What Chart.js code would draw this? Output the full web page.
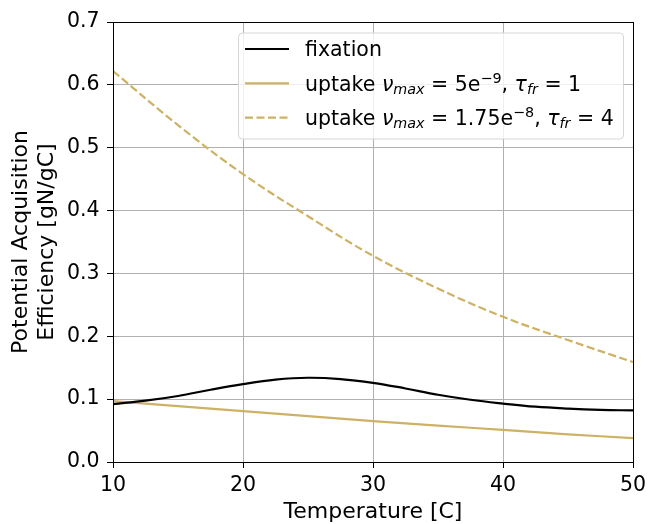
<!DOCTYPE html>
<html>
<head>
<meta charset="utf-8">
<script src="https://cdn.jsdelivr.net/npm/chart.js@4.4.0/dist/chart.umd.min.js"></script>
<style>
  html, body { margin: 0; padding: 0; background: #fff; }
</style>
</head>
<body>
<canvas id="chart" width="649" height="524"></canvas>
<script>
  // ── Data ─────────────────────────────────────────────
  const tempFix = [10, 12.5, 15, 17.5, 20, 22.5, 25, 27.5, 30, 32.5, 35, 37.5, 40, 42.5, 45, 47.5, 50];
  const fixation = [0.092, 0.0975, 0.105, 0.115, 0.124, 0.131, 0.134, 0.132, 0.126, 0.117, 0.107, 0.099, 0.093, 0.088, 0.085, 0.083, 0.082];

  const tempUptake = [10, 15, 20, 25, 30, 35, 40, 45, 50];
  const uptakeLow = [0.097, 0.089, 0.081, 0.073, 0.065, 0.058, 0.051, 0.044, 0.038];
  const uptakeHigh = [0.622, 0.536, 0.458, 0.391, 0.328, 0.276, 0.231, 0.194, 0.159];

  const xTicks = [10, 20, 30, 40, 50];
  const yTicks = [0, 0.1, 0.2, 0.3, 0.4, 0.5, 0.6, 0.7];

  // legend labels as rich text pieces (it = italic, sub / sup)
  const legendFix = [{ t: 'fixation' }];
  const legendLow = [
    { t: 'uptake ' }, { t: 'ν', it: true }, { t: 'max', it: true, sub: true },
    { t: ' = 5e' }, { t: '−9', sup: true }, { t: ', ' },
    { t: 'τ', it: true }, { t: 'fr', it: true, sub: true }, { t: ' = 1' }
  ];
  const legendHigh = [
    { t: 'uptake ' }, { t: 'ν', it: true }, { t: 'max', it: true, sub: true },
    { t: ' = 1.75e' }, { t: '−8', sup: true }, { t: ', ' },
    { t: 'τ', it: true }, { t: 'fr', it: true, sub: true }, { t: ' = 4' }
  ];

  const FONT = "'DejaVu Sans', sans-serif";
  const GOLD = '#cdb164';

  function pts(xs, ys) {
    return xs.map(function (x, i) { return { x: x, y: ys[i] }; });
  }

  function drawRich(ctx, x, y, parts, size) {
    parts.forEach(function (p) {
      const s = (p.sub || p.sup) ? size * 0.7 : size;
      ctx.font = (p.it ? 'italic ' : '') + s + 'px ' + FONT;
      const dy = p.sub ? size * 0.17 : (p.sup ? -size * 0.38 : 0);
      ctx.fillText(p.t, x, y + dy);
      x += ctx.measureText(p.t).width;
    });
  }

  // spines on top/right + matplotlib-like legend box
  const framePlugin = {
    id: 'frame',
    afterDatasetsDraw: function (chart) {
      const ctx = chart.ctx;
      const a = chart.chartArea;
      ctx.save();
      ctx.strokeStyle = '#000';
      ctx.lineWidth = 1;
      ctx.strokeRect(a.left + 0.5, a.top + 0.5, a.right - a.left, a.bottom - a.top);

      // legend
      const bx = 238, by = 32.5, bw = 385, bh = 106;
      ctx.beginPath();
      ctx.roundRect(bx + 0.5, by + 0.5, bw, bh, 4);
      ctx.fillStyle = 'rgba(255,255,255,0.8)';
      ctx.fill();
      ctx.strokeStyle = '#d6d6d6';
      ctx.stroke();

      const rows = [
        { y: 49, color: '#000', dash: [], parts: legendFix },
        { y: 83.3, color: GOLD, dash: [], parts: legendLow },
        { y: 117.7, color: GOLD, dash: [8, 3.5], parts: legendHigh }
      ];
      rows.forEach(function (r) {
        ctx.beginPath();
        ctx.setLineDash(r.dash);
        ctx.strokeStyle = r.color;
        ctx.lineWidth = 2.2;
        ctx.moveTo(245, r.y);
        ctx.lineTo(289, r.y);
        ctx.stroke();
        ctx.setLineDash([]);
        ctx.fillStyle = '#000';
        ctx.textBaseline = 'alphabetic';
        ctx.textAlign = 'left';
        drawRich(ctx, 305, r.y + 7.3, r.parts, 20.5);
      });
      ctx.restore();
    }
  };

  const tickFont = { family: FONT, size: 20.5 };

  new Chart(document.getElementById('chart'), {
    type: 'line',
    data: {
      datasets: [
        {
          label: 'fixation',
          data: pts(tempFix, fixation),
          borderColor: '#000',
          borderWidth: 2.2,
          tension: 0.4
        },
        {
          label: 'uptake νmax = 5e−9, τfr = 1',
          data: pts(tempUptake, uptakeLow),
          borderColor: GOLD,
          borderWidth: 2.2,
          tension: 0.4
        },
        {
          label: 'uptake νmax = 1.75e−8, τfr = 4',
          data: pts(tempUptake, uptakeHigh),
          borderColor: GOLD,
          borderWidth: 2.2,
          borderDash: [8, 3.5],
          tension: 0.4
        }
      ]
    },
    options: {
      responsive: false,
      animation: false,
      layout: { padding: { left: 0, top: 22, right: 16, bottom: 0 } },
      elements: { point: { radius: 0 } },
      plugins: { legend: { display: false }, tooltip: { enabled: false } },
      scales: {
        x: {
          type: 'linear',
          min: xTicks[0],
          max: xTicks[xTicks.length - 1],
          afterBuildTicks: function (s) { s.ticks = xTicks.map(function (v) { return { value: v }; }); },
          ticks: { color: '#000', font: tickFont, padding: 5, maxRotation: 0 },
          grid: { color: '#b0b0b0', lineWidth: 1, tickLength: 6, tickColor: '#000', tickWidth: 1 },
          border: { color: '#000', width: 1 },
          title: {
            display: true, text: 'Temperature [C]', color: '#000',
            font: { family: FONT, size: 22, lineHeight: 1 }, padding: { top: 0, bottom: 0.6 }
          },
          afterFit: function (s) { s.height = 62; s.paddingLeft = 0; s.paddingRight = 0; }
        },
        y: {
          min: yTicks[0],
          max: yTicks[yTicks.length - 1],
          afterBuildTicks: function (s) { s.ticks = yTicks.map(function (v) { return { value: v }; }); },
          ticks: { color: '#000', font: tickFont, padding: 7.5, callback: function (v) { return v.toFixed(1); } },
          grid: { color: '#b0b0b0', lineWidth: 1, tickLength: 6, tickColor: '#000', tickWidth: 1 },
          border: { color: '#000', width: 1 },
          title: {
            display: true, text: ['Potential Acquisition', 'Efficiency [gN/gC]'], color: '#000',
            font: { family: FONT, size: 22, lineHeight: 1.14 }, padding: { top: 9.2, bottom: 0 }
          },
          afterFit: function (s) { s.width = 113; s.paddingTop = 0; s.paddingBottom = 0; }
        }
      }
    },
    plugins: [framePlugin]
  });
</script>
</body>
</html>
